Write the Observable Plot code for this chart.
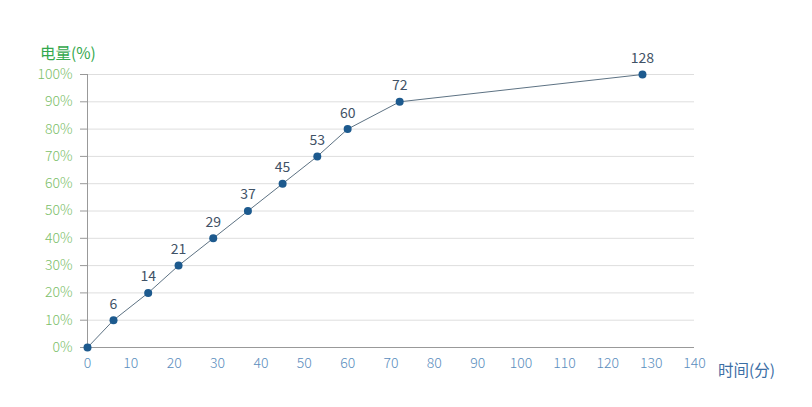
<!DOCTYPE html>
<html><head><meta charset="utf-8">
<script src="https://cdn.jsdelivr.net/npm/d3@7"></script>
<script src="https://cdn.jsdelivr.net/npm/@observablehq/plot@0.6"></script>
<style>
body{margin:0;background:#fff;font-family:"Noto Sans CJK SC","Noto Sans",sans-serif;}
#wrap{position:relative;width:812px;height:407px;}
.t{position:absolute;font-size:15.5px;white-space:nowrap;font-weight:400;}
</style></head><body>
<div id="wrap">
<div class="t" id="yt" style="left:40px;top:41px;color:#33a84c;">电量(%)</div>
<div class="t" id="xt" style="left:718px;top:358px;color:#3b6ea5;">时间(分)</div>
</div>
<script>
const minutes = [0, 6, 14, 21, 29, 37, 45, 53, 60, 72, 128];
const charge = [0, 10, 20, 30, 40, 50, 60, 70, 80, 90, 100];
const xTicks = [0,10,20,30,40,50,60,70,80,90,100,110,120,130,140];
const yTicks = [0,10,20,30,40,50,60,70,80,90,100];

const data = minutes.map((m,i)=>({m, c: charge[i]}));
const labeled = data.filter(d=>d.m>0);

const chart = Plot.plot({
  width: 812, height: 407,
  marginLeft: 87, marginRight: 118, marginTop: 74, marginBottom: 60,
  style: {fontFamily: '"Noto Sans CJK SC","Noto Sans",sans-serif', fontSize: "14px", fontWeight: 300, background: "transparent"},
  x: {domain: [0,140]},
  y: {domain: [0,100]},
  marks: [
    Plot.gridY(yTicks, {stroke: "#dedede", strokeOpacity: 1}),
    Plot.axisY(yTicks, {tickFormat: d=>d+"%", tickSize: 7, stroke:"#999", fill:"#7cc06a", tickPadding: 8, label: null, fontSize: 14}),
    Plot.ruleX([0], {stroke:"#999"}),
    Plot.ruleY([0], {stroke:"#999"}),
    Plot.axisX(xTicks, {tickSize: 0, tickPadding: 11, fill:"#5a8dbd", label: null, fontSize: 14}),
    Plot.line(data, {x:"m", y:"c", stroke:"#5d7283", strokeWidth: 1}),
    Plot.dot(data, {x:"m", y:"c", r: 4, fill:"#1d5a8e", stroke:"none"}),
    Plot.text(labeled, {x:"m", y:"c", text: d=>String(d.m), dy: -16, fill:"#3f5266", fontSize: 14, fontWeight: 400})
  ]
});
chart.style.position="absolute"; chart.style.left="0"; chart.style.top="0";
document.getElementById("wrap").appendChild(chart);
</script>
</body></html>
